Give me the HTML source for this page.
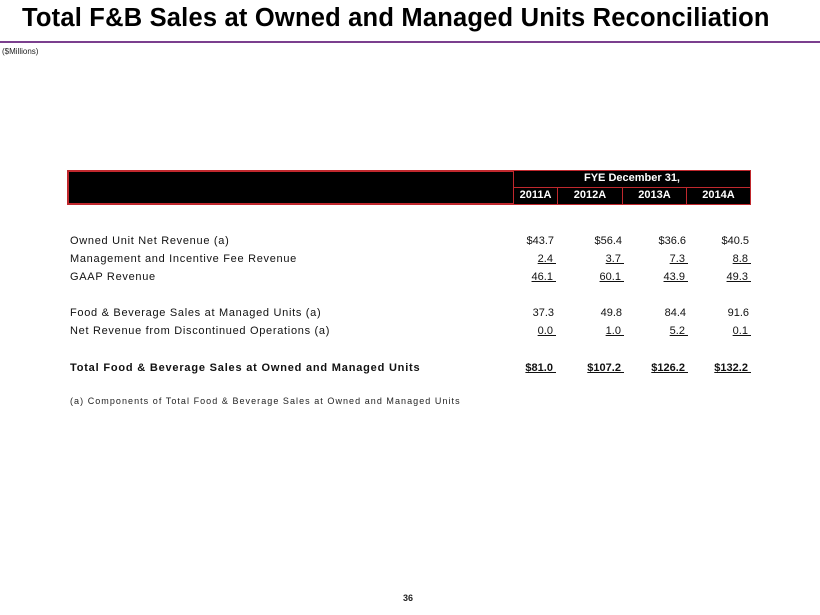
<!DOCTYPE html>
<html><head><style>
body{margin:0;width:820px;height:615px;background:#fff;position:relative;font-family:"Liberation Sans",Arial,sans-serif;overflow:hidden}
.a{position:absolute;white-space:nowrap}
.t{left:22px;top:4px;font-size:25.5px;font-weight:bold;color:#000;letter-spacing:0.2px}
.line{left:0;top:41px;width:820px;height:2px;background:#7b3f8e}
.r{font-size:11px;color:#111;line-height:13px;letter-spacing:0.7px}
.n{font-size:11px;color:#111;text-align:right;line-height:13px}
.u{text-decoration:underline;white-space:pre}
.hd{position:absolute;background:#000;color:#fff;font-weight:bold;font-size:11px;text-align:center;box-sizing:border-box;border:1px solid #c0282d;line-height:15px}
</style></head><body>
<div class="a t">Total F&amp;B Sales at Owned and Managed Units Reconciliation</div>
<div class="a line"></div>
<div class="a" style="left:2px;top:47px;font-size:8px;color:#222">($Millions)</div>

<div class="hd" style="left:67px;top:170px;width:684px;height:35px;border-width:2px"></div>
<div class="hd" style="left:513px;top:170px;width:238px;height:18px">FYE December 31,</div>
<div class="hd" style="left:513px;top:187px;width:45px;height:18px">2011A</div>
<div class="hd" style="left:557px;top:187px;width:66px;height:18px">2012A</div>
<div class="hd" style="left:622px;top:187px;width:65px;height:18px">2013A</div>
<div class="hd" style="left:686px;top:187px;width:65px;height:18px">2014A</div>

<div class="a r" style="left:70px;top:235px">Owned Unit Net Revenue (a)</div>
<div class="a r" style="left:70px;top:253px">Management and Incentive Fee Revenue</div>
<div class="a r" style="left:70px;top:271px">GAAP Revenue</div>
<div class="a r" style="left:70px;top:307px">Food &amp; Beverage Sales at Managed Units (a)</div>
<div class="a r" style="left:70px;top:325px">Net Revenue from Discontinued Operations (a)</div>
<div class="a r" style="left:70px;top:362px;font-weight:bold;letter-spacing:0.8px">Total Food &amp; Beverage Sales at Owned and Managed Units</div>
<div class="a" style="left:70px;top:396px;font-size:9px;color:#222;letter-spacing:1.05px">(a) Components of Total Food &amp; Beverage Sales at Owned and Managed Units</div>

<div class="a n" style="left:460px;width:94px;top:235px">$43.7</div>
<div class="a n" style="left:520px;width:102px;top:235px">$56.4</div>
<div class="a n" style="left:600px;width:86px;top:235px">$36.6</div>
<div class="a n" style="left:660px;width:89px;top:235px">$40.5</div>

<div class="a n" style="left:460px;width:96px;top:253px"><span class="u">2.4 </span></div>
<div class="a n" style="left:520px;width:104px;top:253px"><span class="u">3.7 </span></div>
<div class="a n" style="left:600px;width:88px;top:253px"><span class="u">7.3 </span></div>
<div class="a n" style="left:660px;width:91px;top:253px"><span class="u">8.8 </span></div>

<div class="a n" style="left:460px;width:96px;top:271px"><span class="u">46.1 </span></div>
<div class="a n" style="left:520px;width:104px;top:271px"><span class="u">60.1 </span></div>
<div class="a n" style="left:600px;width:88px;top:271px"><span class="u">43.9 </span></div>
<div class="a n" style="left:660px;width:91px;top:271px"><span class="u">49.3 </span></div>

<div class="a n" style="left:460px;width:94px;top:307px">37.3</div>
<div class="a n" style="left:520px;width:102px;top:307px">49.8</div>
<div class="a n" style="left:600px;width:86px;top:307px">84.4</div>
<div class="a n" style="left:660px;width:89px;top:307px">91.6</div>

<div class="a n" style="left:460px;width:96px;top:325px"><span class="u">0.0 </span></div>
<div class="a n" style="left:520px;width:104px;top:325px"><span class="u">1.0 </span></div>
<div class="a n" style="left:600px;width:88px;top:325px"><span class="u">5.2 </span></div>
<div class="a n" style="left:660px;width:91px;top:325px"><span class="u">0.1 </span></div>

<div class="a n" style="left:460px;width:96px;top:362px;font-weight:bold"><span class="u">$81.0 </span></div>
<div class="a n" style="left:520px;width:104px;top:362px;font-weight:bold"><span class="u">$107.2 </span></div>
<div class="a n" style="left:600px;width:88px;top:362px;font-weight:bold"><span class="u">$126.2 </span></div>
<div class="a n" style="left:660px;width:91px;top:362px;font-weight:bold"><span class="u">$132.2 </span></div>

<div class="a" style="left:403px;top:593px;font-size:9px;font-weight:bold;color:#222">36</div>
</body></html>
